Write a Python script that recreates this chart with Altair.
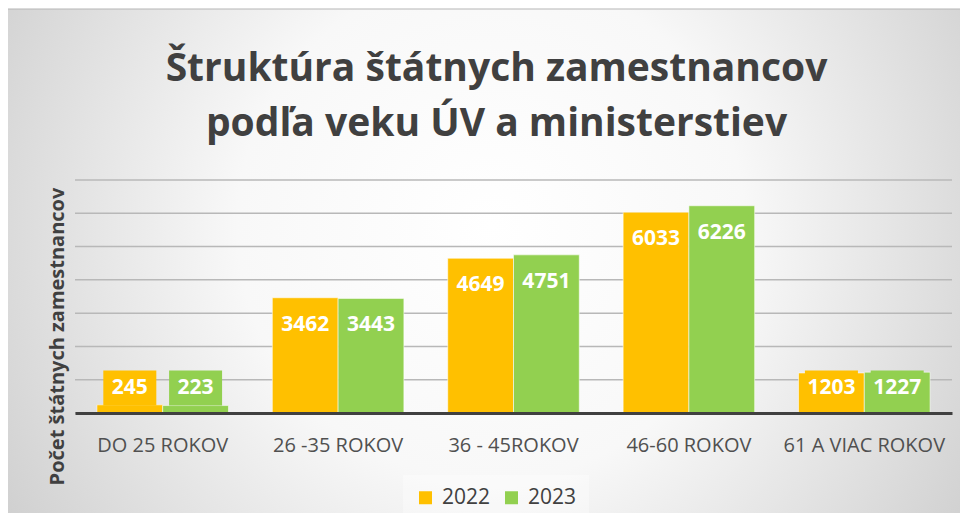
import altair as alt
import pandas as pd

categories = ["DO 25 ROKOV", "26 -35 ROKOV", "36 - 45ROKOV", "46-60 ROKOV", "61 A VIAC ROKOV"]
years = ["2022", "2023"]
values_2022 = [245, 3462, 4649, 6033, 1203]
values_2023 = [223, 3443, 4751, 6226, 1227]
y_ticks = [0, 1000, 2000, 3000, 4000, 5000, 6000, 7000]
colors = ["#FFC000", "#92D050"]

rows = []
for c, a, b in zip(categories, values_2022, values_2023):
    rows.append({"kat": c, "rok": "2022", "pocet": a})
    rows.append({"kat": c, "rok": "2023", "pocet": b})
df = pd.DataFrame(rows)

W, H = 877, 233
YMAX = 7000
px = YMAX / H  # data units per pixel
Y_TITLE = "Počet štátnych zamestnancov"

x_enc = alt.X("kat:N", sort=categories, title=None,
              scale=alt.Scale(paddingInner=0.25, paddingOuter=0.125),
              axis=alt.Axis(labelAngle=0, ticks=False, labelPadding=22, labelFontSize=20,
                            labelFont="Open Sans", labelColor="#505050",
                            domainColor="#404040", domainWidth=3, grid=False, zindex=1))
y_scale = alt.Scale(domain=[0, YMAX], nice=False)
y_axis = alt.Axis(values=y_ticks, labels=False, ticks=False, domain=False, grid=False,
                  titleFont="Open Sans", titleFontSize=20, titleFontWeight="bold",
                  titleColor="#404040", titleAngle=270, titleX=-18, titleY=156,
                  titleAlign="center", titleBaseline="middle", zindex=1)


def y_enc(field):
    return alt.Y(field, scale=y_scale, title=Y_TITLE, axis=y_axis)


color_scale = alt.Scale(domain=years, range=colors)
color_enc = alt.Color("rok:N", scale=color_scale,
                      legend=alt.Legend(title=None, orient="none", direction="horizontal",
                                        legendX=328, legendY=295, padding=12,
                                        symbolType="square", symbolSize=169, symbolStrokeWidth=0,
                                        labelFont="Open Sans", labelFontSize=21, labelColor="#404040",
                                        labelOffset=6, columnPadding=10,
                                        fillColor="rgba(255,255,255,0.35)"))

bg = alt.Chart(pd.DataFrame({"a": [0]})).mark_rect(
    fill={"gradient": "radial", "x1": 0.5, "y1": 0.45, "r1": 0.0,
          "x2": 0.5, "y2": 0.45, "r2": 0.75,
          "stops": [{"offset": 0, "color": "#ffffff"},
                    {"offset": 0.35, "color": "#f8f8f8"},
                    {"offset": 1, "color": "#bbbbbb"}]},
    stroke="#b5b5b5", strokeWidth=1, clip=False
).encode(x=alt.value(-68), x2=alt.value(900), y=alt.value(-171), y2=alt.value(360))

grid = alt.Chart(pd.DataFrame({"v": y_ticks})).mark_rule(color="#b8b8b8", strokeWidth=1.5).encode(
    y=y_enc("v:Q")
)

base = alt.Chart(df).transform_calculate(
    lab=f"max(datum.pocet - {27 * px}, {25 * px})"
).transform_calculate(
    lo=f"datum.lab - {17.5 * px}", hi=f"datum.lab + {17.5 * px}"
)

bars = base.mark_bar(stroke="#ffffff", strokeOpacity=0.55, strokeWidth=1).encode(
    x=x_enc,
    xOffset=alt.XOffset("rok:N", sort=years),
    y=y_enc("pocet:Q"),
    color=color_enc,
)

boxes = base.mark_bar(width=53).encode(
    x=x_enc,
    xOffset=alt.XOffset("rok:N", sort=years),
    y=y_enc("lo:Q"),
    y2="hi:Q",
    color=alt.Color("rok:N", scale=color_scale, legend=None),
)

labels = base.mark_text(color="white", font="Open Sans", fontWeight="bold", fontSize=21,
                        baseline="middle", align="center").encode(
    x=x_enc,
    xOffset=alt.XOffset("rok:N", sort=years),
    y=y_enc("lab:Q"),
    text=alt.Text("pocet:Q", format="d"),
)

chart = alt.layer(bg, grid, bars, boxes, labels).properties(
    width=W, height=H,
    title=alt.TitleParams(text=["Štruktúra štátnych zamestnancov", "podľa veku ÚV a ministerstiev"],
                          font="Open Sans", fontSize=39, fontWeight="bold", color="#404040",
                          anchor="middle", frame="group", lineHeight=55, offset=-135, dx=-17),
    autosize=alt.AutoSizeParams(type="none"),
    padding={"left": 67, "top": 172, "right": 8, "bottom": 100},
).configure_view(stroke=None).configure_scale(offsetBandPaddingInner=0)

chart.save("out.html", embed_options={"renderer": "svg", "actions": False})
